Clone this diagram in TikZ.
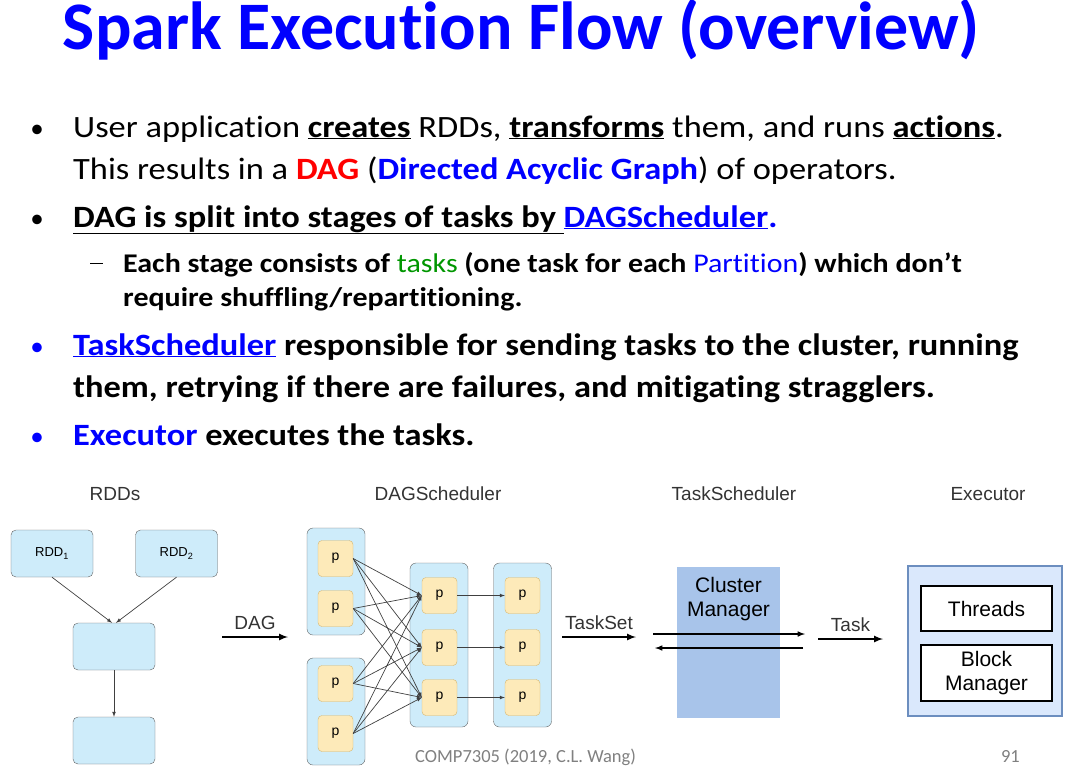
\documentclass[tikz,border=0pt]{standalone}
\usepackage{fontspec}
\setmainfont{Carlito}[FakeStretch=1.11, Ligatures=NoCommon]
\newfontfamily\titlefont{Carlito}[Ligatures=NoCommon]
\newfontfamily\diagfont{Liberation Sans}
\usetikzlibrary{shapes,arrows,positioning,calc}

\definecolor{titleblue}{RGB}{0,0,255}
\definecolor{dagred}{RGB}{255,0,0}
\definecolor{taskgreen}{RGB}{0,150,0}
\definecolor{rddfill}{RGB}{206,236,250}
\definecolor{rddline}{RGB}{100,100,100}
\definecolor{pfill}{RGB}{253,234,185}
\definecolor{pline}{RGB}{215,182,110}
\definecolor{cmfill}{RGB}{168,196,234}
\definecolor{exfill}{RGB}{218,232,252}
\definecolor{exline}{RGB}{108,142,191}
\definecolor{footgray}{RGB}{128,128,128}

\begin{document}
\begin{tikzpicture}[x=1pt, y=-1pt,
  txt/.style={anchor=base west, inner sep=0pt, font=\fontsize{31}{36}\selectfont},
  subtxt/.style={anchor=base west, inner sep=0pt, font=\fontsize{27}{30}\selectfont\bfseries},
  dot/.style={anchor=base, inner sep=0pt, font=\fontsize{27}{30}\titlefont},
  lbl/.style={anchor=base, inner sep=0pt, text=black!80, font=\diagfont\fontsize{19}{22}\selectfont},
  rdd/.style={draw=rddline, fill=rddfill, rounded corners=5pt, minimum width=82pt, minimum height=47pt, font=\diagfont\fontsize{13}{15}\selectfont},
  stage/.style={draw=rddline, fill=rddfill, rounded corners=6pt, minimum width=58pt},
  part/.style={draw=pline, fill=pfill, rounded corners=4pt, minimum width=35pt, minimum height=36pt, font=\diagfont\fontsize{14}{16}\selectfont},
  plainbox/.style={draw, line width=1.2pt, fill=white, minimum width=131pt, align=center, font=\diagfont\fontsize{21}{24}\selectfont},
  thinarrow/.style={-latex, draw=black!75, line width=0.7pt},
  bigarrow/.style={-latex, line width=2pt},
  node distance=94pt]

\useasboundingbox (0,0) rectangle (1074,772);

% 标题
\node[anchor=base, text=titleblue, font=\fontsize{68}{72}\titlefont\bfseries] (title) at (521.5,49) {Spark Execution Flow (overview)};

% 要点
\node[dot] (dot1) at (37,137) {\textbullet};
\node[txt] (l1a) at (73,137) {User application \underline{\textbf{creates}} RDDs, \underline{\textbf{transforms}} them, and runs \underline{\textbf{actions}}.};
\node[txt] (l1b) at (73,179) {This results in a \textcolor{dagred}{\textbf{DAG}} (\textcolor{titleblue}{\textbf{Directed Acyclic Graph}}) of operators.};
\node[dot] (dot2) at (37,227) {\textbullet};
\node[txt, font=\fontsize{31}{36}\selectfont\bfseries] (l2) at (73,227) {\underline{DAG is split into stages of tasks by }\textcolor{titleblue}{\underline{DAGScheduler}.}};
\node[anchor=base west, inner sep=0pt] (dash) at (90,272) {\rule[8pt]{13pt}{1.5pt}};
\node[subtxt] (l2a) at (123,272) {Each stage consists of \textcolor{taskgreen}{\mdseries tasks} (one task for each \textcolor{titleblue}{\mdseries Partition}) which don’t};
\node[subtxt] (l2b) at (123,306) {require shuffling/repartitioning.};
\node[dot, text=titleblue] (dot3) at (37,355) {\textbullet};
\node[txt, font=\fontsize{31}{36}\selectfont\bfseries] (l3a) at (73,355) {\textcolor{titleblue}{\underline{TaskScheduler}} responsible for sending tasks to the cluster, running};
\node[txt, font=\fontsize{31}{36}\selectfont\bfseries] (l3b) at (73,397) {them, retrying if there are failures, and mitigating stragglers.};
\node[dot, text=titleblue] (dot4) at (37,445) {\textbullet};
\node[txt, font=\fontsize{31}{36}\selectfont\bfseries] (l4) at (73,445) {\textcolor{titleblue}{Executor} executes the tasks.};

% 列标题
\node[lbl] (hrdd) at (115,500) {RDDs};
\node[lbl] (hdag) at (438,500) {DAGScheduler};
\node[lbl] (htask) at (734,500) {TaskScheduler};
\node[lbl] (hexec) at (988,500) {Executor};

% RDDs
\node[rdd] (rdd1) at (52,553.5) {RDD\textsubscript{1}};
\node[rdd] (rdd2) at (176.5,553.5) {RDD\textsubscript{2}};
\node[rdd] (rdd3) at (114,646.5) {};
\node[rdd, below of=rdd3] (rdd4) {};
\draw[thinarrow] (rdd1.south) -- ($(rdd3.north)+(-2,0)$);
\draw[thinarrow] (rdd2.south) -- ($(rdd3.north)+(2,0)$);
\draw[thinarrow] (rdd3) -- (rdd4);

\coordinate (dags) at (222,637);
\coordinate (dage) at (288,637);
\draw[bigarrow] (dags) -- node[lbl, anchor=south, inner sep=6pt] (dagl) {DAG} (dage);

% DAGScheduler
\node[stage, minimum height=107pt] (sta1) at (336,581.5) {};
\node[stage, minimum height=107pt] (sta2) at (336,711.5) {};
\node[stage, minimum height=164pt] (stb) at (439,645) {};
\node[stage, minimum height=164pt] (stc) at (522.5,645) {};
\foreach \i/\y in {1/558.5, 2/608.5, 3/683.5, 4/733.5}
  \node[part] (pa\i) at (335.5,\y) {p};
\foreach \i/\y in {1/595.5, 2/647.5, 3/697.5} {
  \node[part] (pb\i) at (439.5,\y) {p};
  \node[part] (pc\i) at (522.5,\y) {p};
}
\foreach \i in {1,...,4}
  \foreach \j in {1,2,3}
    \draw[thinarrow] (pa\i.east) -- (pb\j.west);
\foreach \i in {1,2,3}
  \draw[thinarrow] (pb\i.east) -- (pc\i.west);

\coordinate (tss) at (562,637);
\coordinate (tse) at (636,637);
\draw[bigarrow] (tss) -- node[lbl, anchor=south, inner sep=6pt] (tsl) {TaskSet} (tse);

% TaskScheduler
\node[fill=cmfill, minimum width=103pt, minimum height=151pt] (cm) at (728.5,642.5) {};
\node[below=10pt of cm.north, align=center, inner sep=0pt, font=\diagfont\fontsize{21}{24}\selectfont] (cmtext) {Cluster\\Manager};
\coordinate (cmin) at (653,634);
\coordinate (cmout) at (805,634);
\coordinate (cmback) at (803,648);
\coordinate (cmret) at (655,648);
\draw[-latex, line width=1.5pt] (cmin) -- (cmout);
\draw[-latex, line width=1.5pt] (cmback) -- (cmret);

\coordinate (tks) at (818,639);
\coordinate (tke) at (883,639);
\draw[bigarrow] (tks) -- node[lbl, anchor=south, inner sep=6pt] (tkl) {Task} (tke);

% Executor
\node[draw=exline, fill=exfill, line width=1.2pt, minimum width=154pt, minimum height=150pt] (exec) at (985,641) {};
\node[plainbox, minimum height=45pt] (threads) at (986.5,608.5) {Threads};
\node[plainbox, minimum height=56pt] (block) at (986.5,673) {Block\\Manager};

% 页脚
\node[anchor=base west, inner sep=0pt, text=footgray, font=\fontsize{18.5}{20}\titlefont] (foot) at (415,762) {COMP7305 (2019, C.L. Wang)};
\node[anchor=base east, inner sep=0pt, text=footgray, font=\fontsize{18.5}{20}\titlefont] (page) at (1020,762) {91};
\end{tikzpicture}
\end{document}
